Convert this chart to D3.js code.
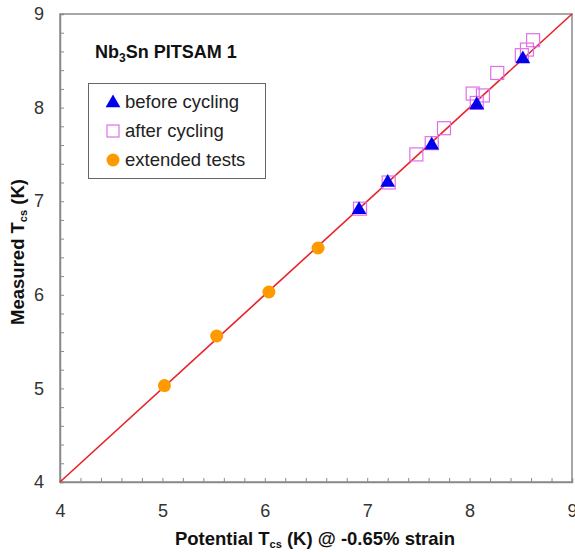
<!DOCTYPE html>
<html><head><meta charset="utf-8">
<script src="https://cdn.jsdelivr.net/npm/d3@7"></script>
<style>body{margin:0;background:#fff}svg{display:block}text{font-family:Arial,"Liberation Sans",sans-serif}</style>
</head><body>
<script>
const xTicks=[4,5,6,7,8,9];
const yTicks=[4,5,6,7,8,9];
const beforeX=[6.92,7.20,7.63,8.07,8.52];
const beforeY=[6.92,7.21,7.61,8.04,8.53];
const afterX=[6.93,7.21,7.48,7.63,7.75,8.03,8.13,8.07,8.27,8.51,8.56,8.62];
const afterY=[6.92,7.20,7.50,7.62,7.78,8.15,8.13,8.05,8.37,8.56,8.62,8.72];
const extX=[5.02,5.53,6.04,6.52];
const extY=[5.03,5.56,6.03,6.50];
const legendLabels=["before cycling","after cycling","extended tests"];

const W=575,H=552,L=60,R=572,T=14,B=482;
const svg=d3.select("body").append("svg").attr("width",W).attr("height",H);
const x=d3.scaleLinear().domain([4,9]).range([L,R]);
const y=d3.scaleLinear().domain([4,9]).range([B,T]);
const axisCol="#8a8a8a";

svg.append("rect").attr("x",L).attr("y",T).attr("width",R-L).attr("height",B-T)
 .attr("fill","none").attr("stroke",axisCol).attr("stroke-width",1.5);

const minor=d3.range(4,9.001,0.2);
const xa=svg.append("g").attr("transform",`translate(0,${B})`)
 .call(d3.axisTop(x).tickValues(minor).tickSize(4).tickFormat(""));
const ya=svg.append("g").attr("transform",`translate(${L},0)`)
 .call(d3.axisRight(y).tickValues(minor).tickSize(4).tickFormat(""));
[xa,ya].forEach(g=>{g.select(".domain").attr("stroke",axisCol).attr("stroke-width",1.5);g.selectAll(".tick line").attr("stroke",axisCol);});

const xl=svg.append("g").attr("transform",`translate(0,${B})`)
 .call(d3.axisBottom(x).tickValues(xTicks).tickSize(0).tickPadding(22).tickFormat(d3.format("d")));
xl.select(".domain").remove();
xl.selectAll("text").attr("font-size",18).attr("fill","#333").attr("font-family","Arial");
const yl=svg.append("g").attr("transform",`translate(${L},0)`)
 .call(d3.axisLeft(y).tickValues(yTicks).tickSize(0).tickPadding(16).tickFormat(d3.format("d")));
yl.select(".domain").remove();
yl.selectAll("text").attr("font-size",18).attr("fill","#333").attr("font-family","Arial");

svg.append("line").attr("x1",x(4)).attr("y1",y(4)).attr("x2",x(9)).attr("y2",y(9))
 .attr("stroke","#e8232a").attr("stroke-width",1.6);

const sq=13;
svg.append("g").selectAll("rect").data(afterX.map((v,i)=>[v,afterY[i]])).join("rect")
 .attr("x",d=>x(d[0])-sq/2).attr("y",d=>y(d[1])-sq/2).attr("width",sq).attr("height",sq)
 .attr("fill","none").attr("stroke","#e070e8").attr("stroke-width",1.2);
const tri=d3.symbol().type(d3.symbolTriangle).size(95);
svg.append("g").selectAll("path").data(beforeX.map((v,i)=>[v,beforeY[i]])).join("path")
 .attr("d",tri).attr("transform",d=>`translate(${x(d[0])},${y(d[1])+1})`).attr("fill","#0000ee");
svg.append("g").selectAll("circle").data(extX.map((v,i)=>[v,extY[i]])).join("circle")
 .attr("cx",d=>x(d[0])).attr("cy",d=>y(d[1])).attr("r",6.5).attr("fill","#ff9900");

const t=svg.append("text").attr("x",95).attr("y",58).attr("font-size",18).attr("font-weight","bold").attr("fill","#111");
t.append("tspan").text("Nb");
t.append("tspan").text("3").attr("font-size",12).attr("dy",4);
t.append("tspan").text("Sn PITSAM 1").attr("dy",-4);

svg.append("rect").attr("x",88.5).attr("y",83.5).attr("width",177).attr("height",95)
 .attr("fill","#fff").attr("stroke","#666").attr("stroke-width",1);
const ly=[102,131,160];
svg.append("path").attr("d",tri).attr("transform",`translate(113,${ly[0]+1})`).attr("fill","#0000ee");
svg.append("rect").attr("x",113-6).attr("y",ly[1]-6).attr("width",12).attr("height",12)
 .attr("fill","none").attr("stroke","#e070e8").attr("stroke-width",1.2);
svg.append("circle").attr("cx",113).attr("cy",ly[2]).attr("r",6.5).attr("fill","#ff9900");
legendLabels.forEach((s,i)=>svg.append("text").attr("x",125).attr("y",ly[i]+6)
 .attr("font-size",18.5).attr("fill","#222").text(s));

const xt=svg.append("text").attr("x",315).attr("y",545).attr("text-anchor","middle")
 .attr("font-size",18.5).attr("font-weight","bold").attr("fill","#111");
xt.append("tspan").text("Potential T");
xt.append("tspan").text("cs").attr("font-size",11).attr("dy",3);
xt.append("tspan").text(" (K) @ -0.65% strain").attr("dy",-3);
const yt=svg.append("text").attr("transform","translate(24,252) rotate(-90)").attr("text-anchor","middle")
 .attr("font-size",18.5).attr("font-weight","bold").attr("fill","#111");
yt.append("tspan").text("Measured T");
yt.append("tspan").text("cs").attr("font-size",11).attr("dy",3);
yt.append("tspan").text(" (K)").attr("dy",-3);
</script>
</body></html>
